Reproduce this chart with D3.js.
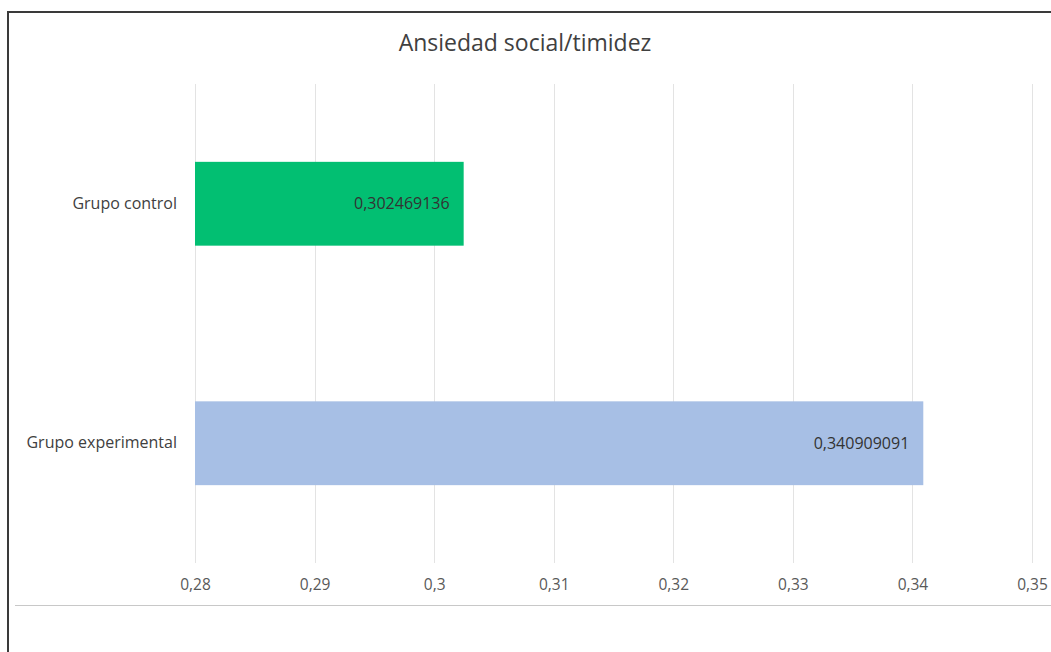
<!DOCTYPE html>
<html>
<head>
<meta charset="utf-8">
<script src="https://cdn.jsdelivr.net/npm/d3@7"></script>
<style>
  body { margin: 0; background: #fff; }
  svg { display: block; font-family: "Open Sans", sans-serif; }
</style>
</head>
<body>
<script>
// chart data
const title = "Ansiedad social/timidez";
const categories = ["Grupo control", "Grupo experimental"];
const values = [0.302469136, 0.340909091];
const valueLabels = ["0,302469136", "0,340909091"];
const barColors = ["#02bf72", "#a7bfe5"];
const xTicks = [0.28, 0.29, 0.30, 0.31, 0.32, 0.33, 0.34, 0.35];

const W = 1051, H = 652;
const plot = { left: 195, right: 1032, top: 84, bottom: 563 };

const svg = d3.select("body").append("svg")
    .attr("width", W)
    .attr("height", H);

// frame (top and left edges only, as in the screenshot)
svg.append("line")
    .attr("x1", 8).attr("x2", W).attr("y1", 12).attr("y2", 12)
    .attr("stroke", "#3a3a3a").attr("stroke-width", 2);
svg.append("line")
    .attr("x1", 8).attr("x2", 8).attr("y1", 11).attr("y2", H)
    .attr("stroke", "#3a3a3a").attr("stroke-width", 2);

// bottom separator line
svg.append("line")
    .attr("x1", 15).attr("x2", W).attr("y1", 605.5).attr("y2", 605.5)
    .attr("stroke", "#c8c8c8").attr("stroke-width", 1);

const x = d3.scaleLinear()
    .domain([0.28, 0.35])
    .range([plot.left, plot.right]);

const y = d3.scaleBand()
    .domain(categories)
    .range([plot.top, plot.bottom])
    .paddingInner(0.65)
    .paddingOuter(0.325);

// gridlines
svg.append("g")
    .selectAll("line")
    .data(xTicks)
    .enter().append("line")
    .attr("x1", d => Math.round(x(d)) + 0.5)
    .attr("x2", d => Math.round(x(d)) + 0.5)
    .attr("y1", plot.top)
    .attr("y2", plot.bottom)
    .attr("stroke", "#e3e3e3")
    .attr("stroke-width", 1);

// x axis labels
const xAxis = d3.axisBottom(x)
    .tickValues(xTicks)
    .tickSize(0)
    .tickPadding(0)
    .tickFormat(d => d3.format(".2~f")(d).replace(".", ","));

const gx = svg.append("g")
    .attr("transform", "translate(0," + 579 + ")")
    .call(xAxis);
gx.select(".domain").remove();
gx.selectAll("text")
    .attr("font-family", "Open Sans, sans-serif")
    .attr("font-size", 15.5)
    .attr("fill", "#595959");

// bars
svg.append("g")
    .selectAll("rect")
    .data(values)
    .enter().append("rect")
    .attr("x", x(0.28))
    .attr("y", (d, i) => y(categories[i]))
    .attr("width", d => x(d) - x(0.28))
    .attr("height", y.bandwidth())
    .attr("fill", (d, i) => barColors[i]);

// value labels inside bars
svg.append("g")
    .selectAll("text")
    .data(values)
    .enter().append("text")
    .attr("x", d => x(d) - 14)
    .attr("y", (d, i) => y(categories[i]) + y.bandwidth() / 2)
    .attr("dy", "0.35em")
    .attr("text-anchor", "end")
    .attr("font-size", 16)
    .attr("fill", "#333")
    .text((d, i) => valueLabels[i]);

// category labels
const yAxis = d3.axisLeft(y).tickSize(0).tickPadding(18);
const gy = svg.append("g")
    .attr("transform", "translate(" + plot.left + ",0)")
    .call(yAxis);
gy.select(".domain").remove();
gy.selectAll("text")
    .attr("font-family", "Open Sans, sans-serif")
    .attr("font-size", 16)
    .attr("fill", "#404040");

// title
svg.append("text")
    .attr("x", 525)
    .attr("y", 51)
    .attr("text-anchor", "middle")
    .attr("font-size", 23)
    .attr("fill", "#404040")
    .text(title);
</script>
</body>
</html>
